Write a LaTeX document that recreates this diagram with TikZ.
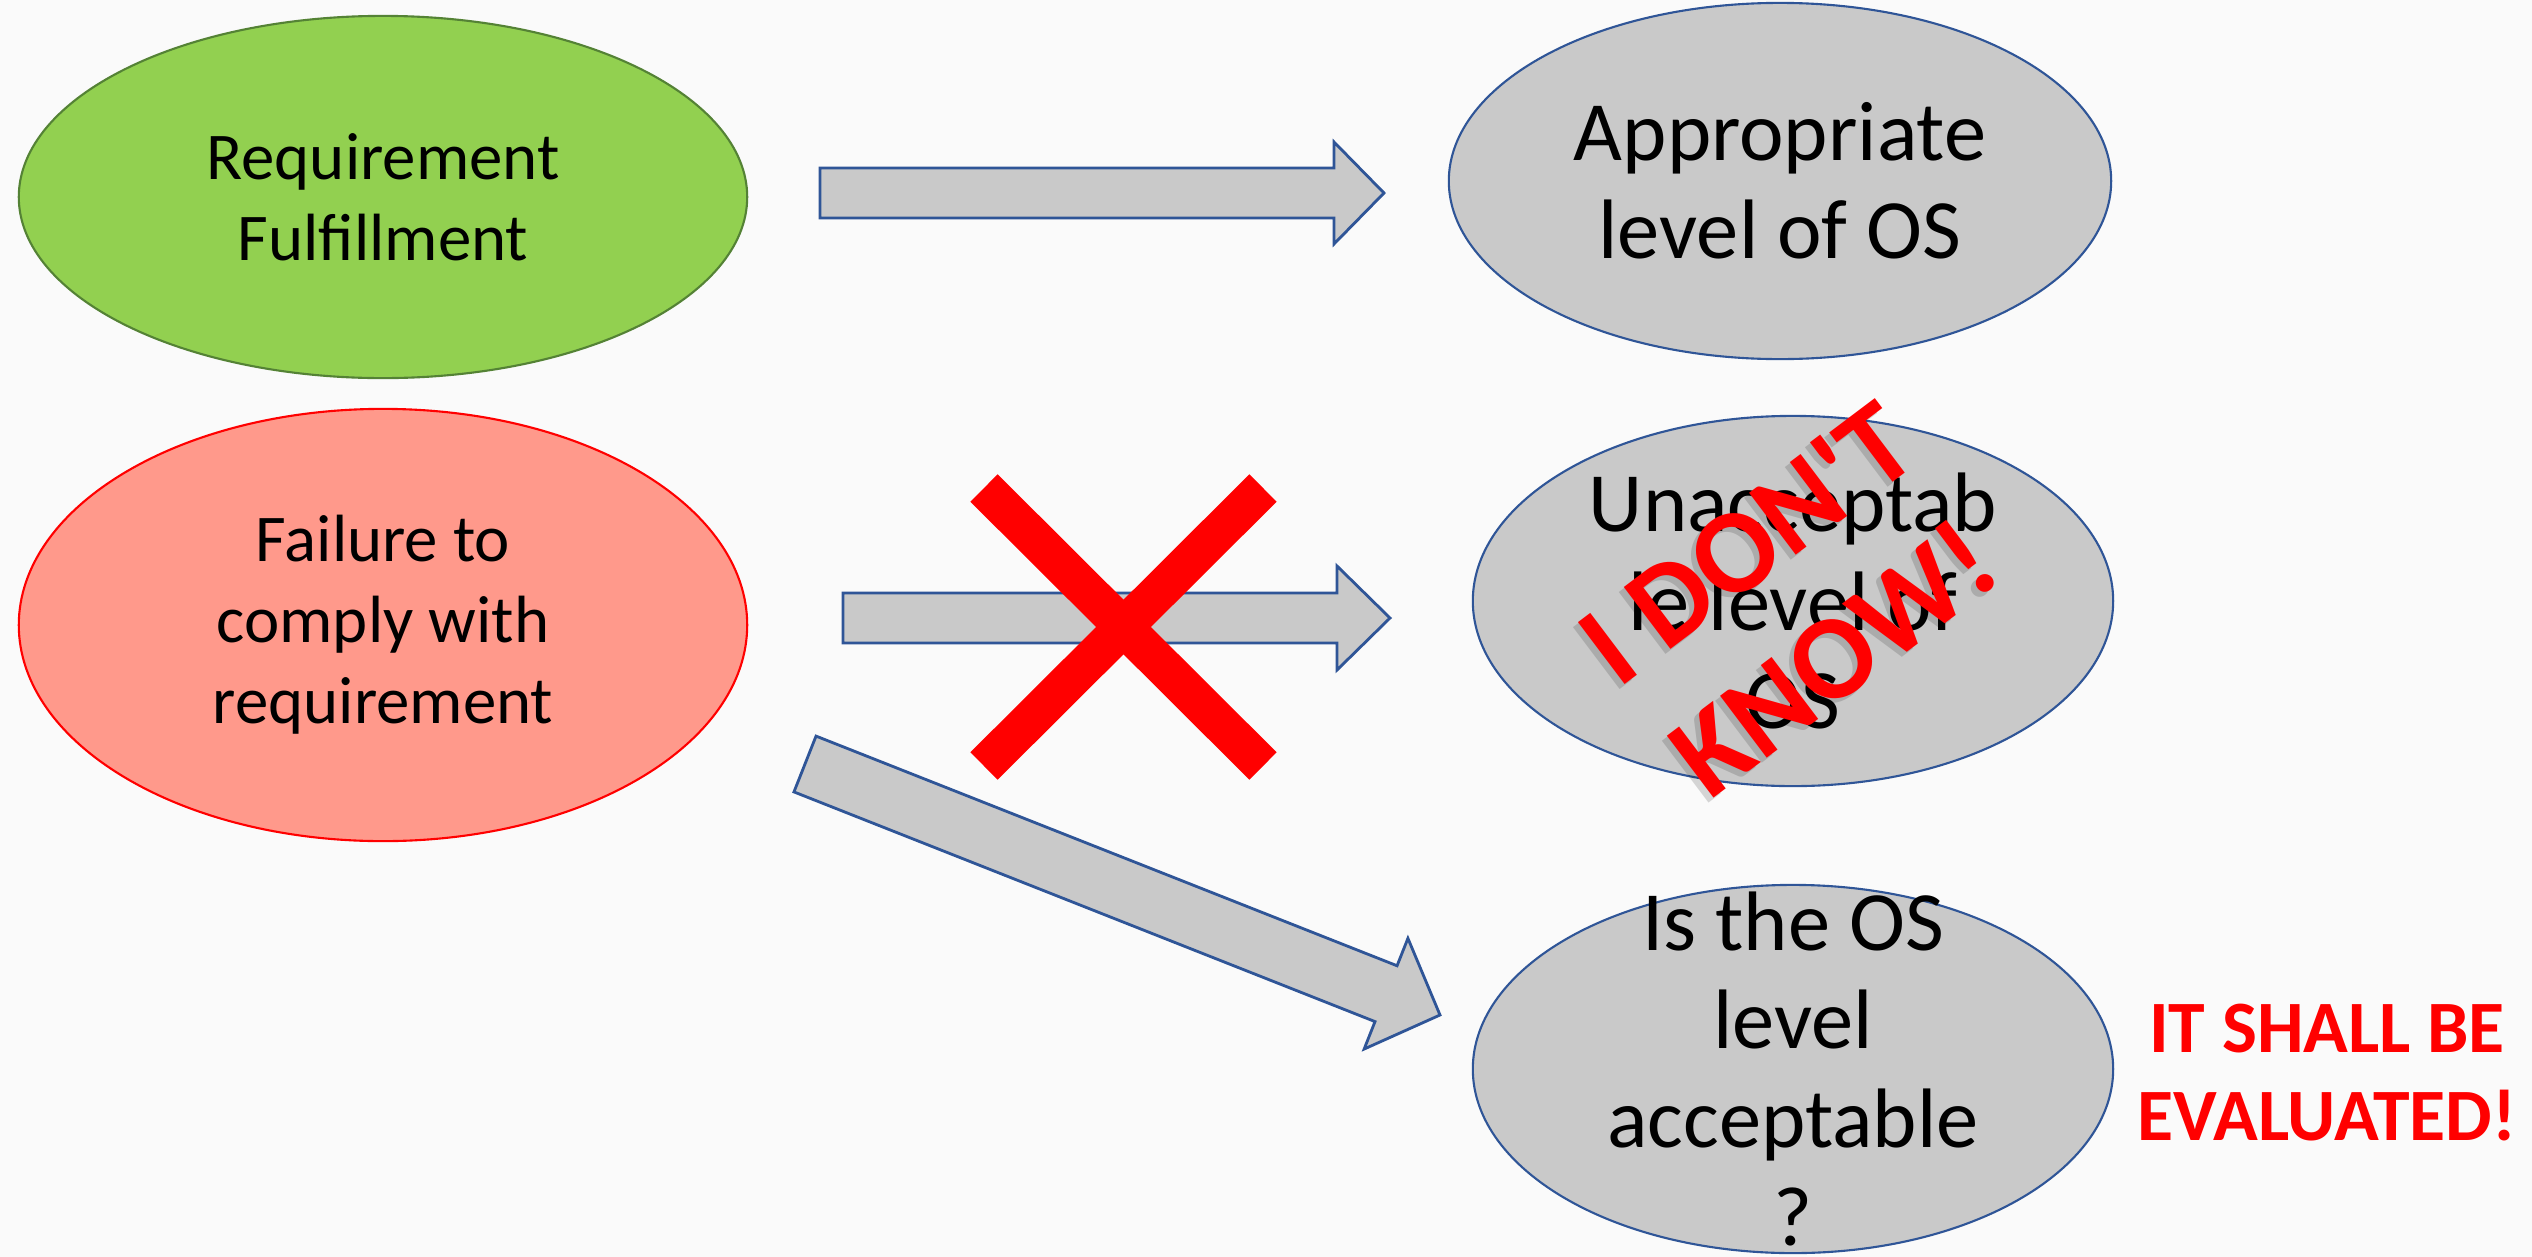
\documentclass[tikz,border=0pt]{standalone}
\usepackage{fontspec}
\setmainfont{Carlito}
\usetikzlibrary{shapes.geometric,calc}

\definecolor{pagebg}{HTML}{FAFAFA}
\definecolor{okgreen}{HTML}{92D050}
\definecolor{okgreenline}{HTML}{548235}
\definecolor{failred}{HTML}{FF998B}
\definecolor{osgray}{HTML}{C9C9C9}
\definecolor{osblue}{HTML}{2F5597}

\tikzset{
  blob/.style={ellipse, draw, line width=0.6pt, inner sep=0pt},
  goodblob/.style={blob, fill=okgreen, draw=okgreenline},
  badblob/.style={blob, fill=failred, draw=red},
  osblob/.style={blob, fill=osgray, draw=osblue},
  smalltext/.style={align=center, font=\fontsize{19}{23}\selectfont},
  bigtext/.style={align=center, font=\fontsize{24}{28}\selectfont},
  blockarr/.style={fill=osgray, draw=osblue, line width=0.8pt, line join=miter},
  shout/.style={text=red, align=center, font=\bfseries\fontsize{21}{25}\selectfont},
  stamp/.style={align=center, rotate=37, font=\bfseries\fontsize{34}{41}\selectfont},
}

% tail, tip, shaft half width, head half width, head length
\newcommand{\blockarrow}[5]{%
  \coordinate (hb) at ($(#2)!#5!(#1)$);
  \draw[blockarr] ($(#1)!#3!90:(#2)$) -- ($(hb)!#3!90:(#2)$) -- ($(hb)!#4!90:(#2)$)
    -- (#2) -- ($(hb)!#4!-90:(#2)$) -- ($(hb)!#3!-90:(#2)$) -- ($(#1)!#3!-90:(#2)$) -- cycle;
}

\begin{document}
\begin{tikzpicture}[x=0.01cm, y=-0.01cm]

	\fill[pagebg] (0,0) rectangle (2532,1257);
	\useasboundingbox (0,0) rectangle (2532,1257);

	% left side
	\node[goodblob, minimum width=7.28cm, minimum height=3.62cm] (fulfil) at (383,197) {};
	\node[badblob, minimum width=7.28cm, minimum height=4.32cm] (fail) at (383,625) {};
	\node[smalltext] (fulfiltxt) at (fulfil) {Requirement\\Fulfillment};
	\node[smalltext] (failtxt) at (fail) {Failure to\\comply with\\requirement};

	% right side
	\node[osblob, minimum width=6.62cm, minimum height=3.56cm] (approp) at (1780,181) {};
	\node[osblob, minimum width=6.40cm, minimum height=3.70cm] (unacc) at (1793,601) {};
	\node[osblob, minimum width=6.40cm, minimum height=3.68cm] (accept) at (1793,1069) {};
	\node[bigtext] (approptxt) at (approp) {Appropriate\\level of OS};
	\node[bigtext] (unacctxt) at (unacc) {Unacceptab\\le level of\\OS};
	\node[bigtext] (accepttxt) at (accept) {Is the OS\\level\\acceptable\\?};

	% block arrows
	\coordinate (a1s) at (820,193);  \coordinate (a1e) at (1384,193);
	\coordinate (a2s) at (843,618);  \coordinate (a2e) at (1390,618);
	\coordinate (a3s) at (805,764);  \coordinate (a3e) at (1440,1015);
	\blockarrow{a1s}{a1e}{0.25cm}{0.51cm}{0.50cm}
	\blockarrow{a2s}{a2e}{0.25cm}{0.52cm}{0.53cm}
	\blockarrow{a3s}{a3e}{0.30cm}{0.595cm}{0.58cm}

	% cross over the middle arrow
	\coordinate (xa) at (984,488);  \coordinate (xb) at (1263,766);
	\coordinate (xc) at (1263,488); \coordinate (xd) at (984,766);
	\draw[red, line width=11pt] (xa) -- (xb);
	\draw[red, line width=11pt] (xc) -- (xd);

	% remarks
	\node[stamp, text=black, opacity=0.15] at (1785,605) {I DON\textquotesingle T\\KNOW!};
	\node[stamp, text=red] (dunno) at (1790,600) {I DON\textquotesingle T\\KNOW!};
	\node[shout] (evaluate) at (2327,1073) {IT SHALL BE\\EVALUATED!};

\end{tikzpicture}
\end{document}
